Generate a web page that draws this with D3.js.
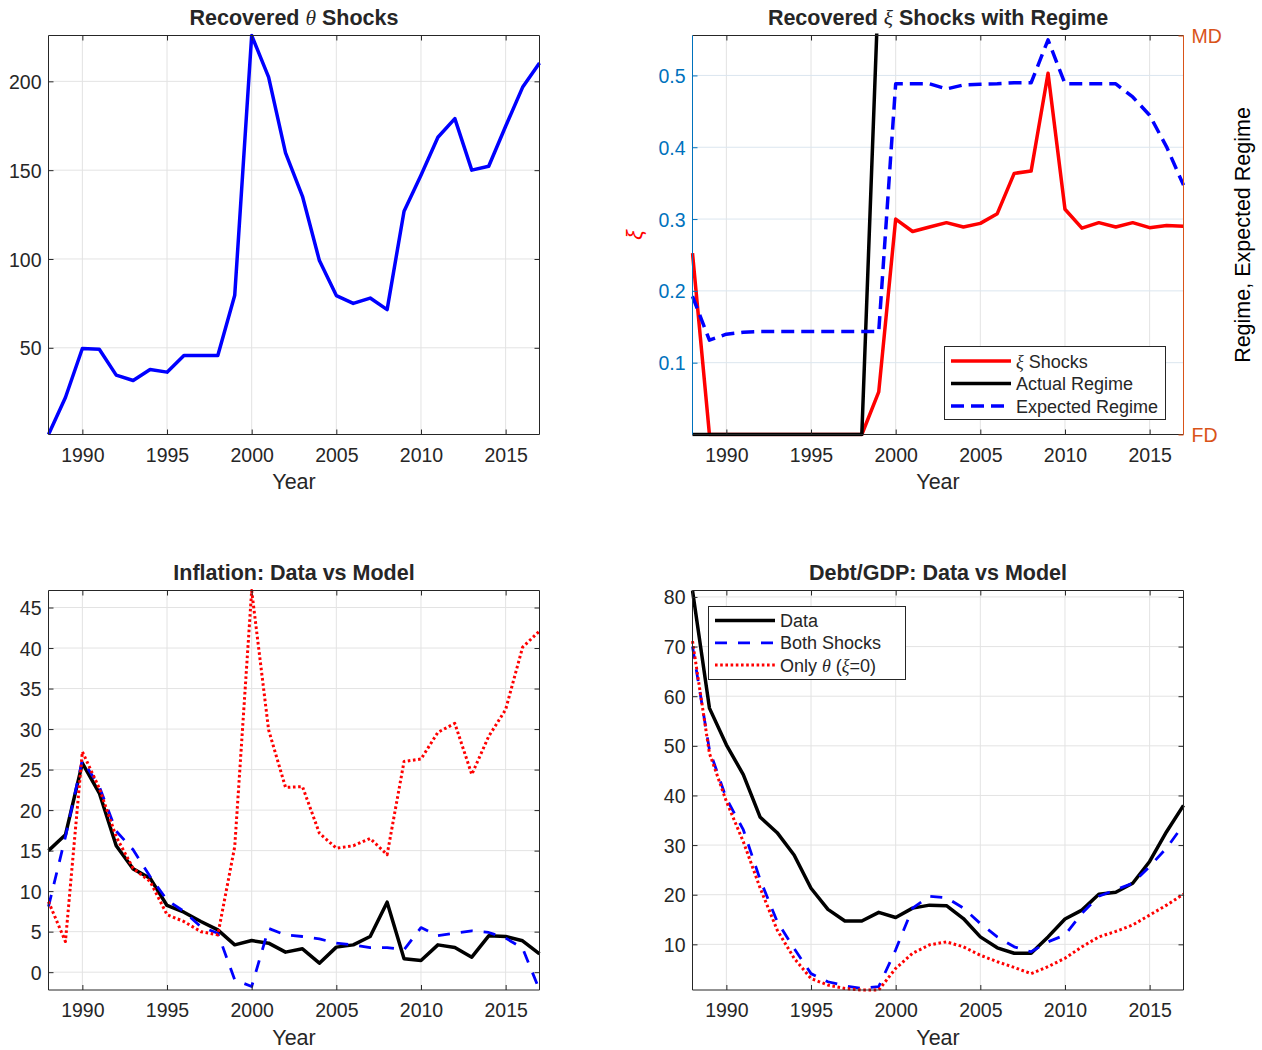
<!DOCTYPE html>
<html>
<head>
<meta charset="utf-8">
<script src="https://cdn.jsdelivr.net/npm/d3@7"></script>
<style>
  body { margin: 0; background: #fff; }
  text { font-family: "Liberation Sans", Arial, Helvetica, sans-serif; }
</style>
</head>
<body>
<svg id="fig" width="1262" height="1050"></svg>
<script>
// ---- data -------------------------------------------------------------
const years = d3.range(1988, 2018);
const yearTicks = [1990, 1995, 2000, 2005, 2010, 2015];

const thetaShocks = [1.2, 22, 49.6, 49.2, 34.6, 31.6, 37.8, 36.3, 45.7, 45.7,
  45.7, 79.6, 225.8, 202.4, 159.7, 135.3, 99.1, 79.4, 75.0, 78.0,
  71.5, 126.9, 147.1, 168.5, 179.0, 150.0, 152.2, 174.7, 196.6, 210.3];
const thetaTicks = [50, 100, 150, 200];

const xiShocks = [0.2526, 0, 0, 0, 0, 0, 0, 0, 0, 0,
  0, 0.0593, 0.300, 0.2827, 0.289, 0.295, 0.289, 0.294, 0.3075, 0.3636,
  0.3668, 0.503, 0.3136, 0.2873, 0.295, 0.289, 0.295, 0.288, 0.291, 0.290];
const xiTicks = [0.1, 0.2, 0.3, 0.4, 0.5];
const xiLimits = [0, 0.5556];

// regime scale: 0 = FD, 1 = MD
const actualRegime = [0, 0, 0, 0, 0, 0, 0, 0, 0, 0,
  0, 1.14, 1.14, 1.14, 1.14, 1.14, 1.14, 1.14, 1.14, 1.14,
  1.14, 1.14, 1.14, 1.14, 1.14, 1.14, 1.14, 1.14, 1.14, 1.14];
const expectedRegime = [0.3465, 0.2365, 0.2514, 0.2565, 0.258, 0.258, 0.258, 0.258, 0.258, 0.258,
  0.258, 0.258, 0.879, 0.879, 0.879, 0.866, 0.876, 0.878, 0.879, 0.8816,
  0.8816, 0.989, 0.879, 0.879, 0.879, 0.879, 0.846, 0.800, 0.721, 0.625];
const regimeTicks = [0, 1];
const regimeLabels = ["FD", "MD"];

const inflationData = [15.0, 16.95, 25.8, 22.1, 15.6, 12.75, 11.6, 8.23, 7.4, 6.25,
  5.22, 3.37, 3.9, 3.58, 2.47, 2.88, 1.11, 3.09, 3.37, 4.4,
  8.64, 1.65, 1.44, 3.37, 3.04, 1.85, 4.48, 4.4, 3.87, 2.26];
const inflationBoth = [8.1, 16.7, 26.2, 22.9, 17.4, 15.1, 11.8, 8.9, 7.5, 5.6,
  4.8, -0.95, -1.77, 5.4, 4.6, 4.4, 4.1, 3.58, 3.37, 3.04,
  3.04, 2.76, 5.5, 4.5, 4.8, 5.1, 4.9, 4.2, 2.96, -2.2];
const inflationTheta = [8.7, 3.78, 27.2, 22.7, 16.7, 12.8, 11.2, 7.1, 6.25, 5.0,
  4.6, 15.5, 47.1, 29.9, 22.8, 22.9, 17.15, 15.3, 15.6, 16.5,
  14.5, 26.0, 26.3, 29.6, 30.7, 24.4, 29.1, 32.4, 40.1, 42.1];
const inflationTicks = [0, 5, 10, 15, 20, 25, 30, 35, 40, 45];

const debtData = [81.3, 57.6, 50.2, 44.2, 35.6, 32.5, 28.0, 21.3, 17.05, 14.7,
  14.7, 16.45, 15.4, 17.3, 17.9, 17.8, 15.2, 11.5, 9.3, 8.2,
  8.2, 11.5, 15.1, 16.9, 20.1, 20.5, 22.3, 26.7, 32.7, 38.0];
const debtBoth = [70.0, 49.2, 39.4, 33.1, 23.0, 14.6, 9.2, 4.1, 2.46, 1.65,
  1.1, 1.5, 8.9, 17.3, 19.7, 19.4, 17.3, 14.2, 11.5, 9.5,
  8.5, 10.5, 11.9, 16.25, 19.7, 21.0, 22.3, 25.7, 29.4, 34.1];
const debtTheta = [71.1, 48.5, 38.8, 30.7, 21.3, 12.9, 7.2, 3.1, 1.8, 1.1,
  0.8, 0.8, 5.15, 8.2, 9.9, 10.5, 9.5, 7.8, 6.5, 5.35,
  4.1, 5.5, 7.2, 9.5, 11.5, 12.6, 13.9, 15.9, 17.9, 20.1];
const debtTicks = [10, 20, 30, 40, 50, 60, 70, 80];

// ---- styling constants ---------------------------------------------------
const AX = "#262626";
const GRID = "#e3e3e3";
const LEFT_BLUE = "#0072BD";
const RIGHT_ORANGE = "#D95319";
const TICK_FS = 19.5, TITLE_FS = 21.5, LABEL_FS = 21.5, LEGEND_FS = 18;
const TICK_LEN = 5;
const CLIP_PAD = 2; // strokes on the axes limits stay fully visible

const svg = d3.select("#fig");
svg.append("rect").attr("width", 1262).attr("height", 1050).attr("fill", "#fff");

let clipCount = 0;

// Builds one axes box: grid, ticks, labels, title; returns helpers to plot lines.
function makeAxes(box, yDomain, yTicks, opts = {}) {
  const g = svg.append("g");
  const x = d3.scaleLinear().domain([1988, 2017]).range([box.x0, box.x1]);
  const y = d3.scaleLinear().domain(yDomain).range([box.y1, box.y0]);
  const leftColor = opts.leftColor || AX;

  // grid
  const grid = g.append("g");
  grid.selectAll(".vg").data(yearTicks).join("line")
    .attr("x1", d => x(d)).attr("x2", d => x(d))
    .attr("y1", box.y0).attr("y2", box.y1)
    .attr("stroke", GRID).attr("stroke-width", 1);
  grid.selectAll(".hg").data(yTicks).join("line")
    .attr("x1", box.x0).attr("x2", box.x1)
    .attr("y1", d => y(d)).attr("y2", d => y(d))
    .attr("stroke", opts.hGrid || GRID).attr("stroke-width", 1);

  // clip region for data
  const id = "clip" + (clipCount++);
  svg.append("clipPath").attr("id", id).append("rect")
    .attr("x", box.x0 - CLIP_PAD).attr("y", box.y0 - CLIP_PAD)
    .attr("width", box.x1 - box.x0 + 2 * CLIP_PAD).attr("height", box.y1 - box.y0 + 2 * CLIP_PAD);
  const data = svg.append("g").attr("clip-path", `url(#${id})`);

  // axes drawn after data
  const axesLayer = svg.append("g");
  function drawAxes() {
    const bottom = axesLayer.append("g").attr("transform", `translate(0,${box.y1})`)
      .call(d3.axisBottom(x).tickValues(yearTicks).tickFormat(d3.format("d"))
        .tickSizeInner(-TICK_LEN).tickSizeOuter(0));
    bottom.select(".domain").remove();
    bottom.selectAll("line").attr("stroke", AX);
    bottom.selectAll("text").attr("y", 27).attr("dy", null)
      .attr("fill", AX).attr("font-size", TICK_FS).attr("font-family", null);

    const top = axesLayer.append("g").attr("transform", `translate(0,${box.y0})`)
      .call(d3.axisTop(x).tickValues(yearTicks).tickFormat("")
        .tickSizeInner(-TICK_LEN).tickSizeOuter(0));
    top.select(".domain").remove();
    top.selectAll("line").attr("stroke", AX);

    const left = axesLayer.append("g").attr("transform", `translate(${box.x0},0)`)
      .call(d3.axisLeft(y).tickValues(yTicks).tickFormat(opts.leftFormat || d3.format("d"))
        .tickSizeInner(-TICK_LEN).tickSizeOuter(0).tickPadding(7));
    left.select(".domain").remove();
    left.selectAll("line").attr("stroke", leftColor);
    left.selectAll("text").attr("fill", leftColor).attr("font-size", TICK_FS)
      .attr("font-family", null).attr("dy", "0.36em");

    if (!opts.rightAxis) {
      const right = axesLayer.append("g").attr("transform", `translate(${box.x1},0)`)
        .call(d3.axisRight(y).tickValues(yTicks).tickFormat("")
          .tickSizeInner(-TICK_LEN).tickSizeOuter(0));
      right.select(".domain").remove();
      right.selectAll("line").attr("stroke", AX);
    }

    // box
    axesLayer.append("line").attr("x1", box.x0).attr("x2", box.x1)
      .attr("y1", box.y0).attr("y2", box.y0).attr("stroke", AX);
    axesLayer.append("line").attr("x1", box.x0).attr("x2", box.x1)
      .attr("y1", box.y1).attr("y2", box.y1).attr("stroke", AX);
    axesLayer.append("line").attr("x1", box.x0).attr("x2", box.x0)
      .attr("y1", box.y0).attr("y2", box.y1).attr("stroke", leftColor);
    axesLayer.append("line").attr("x1", box.x1).attr("x2", box.x1)
      .attr("y1", box.y0).attr("y2", box.y1)
      .attr("stroke", opts.rightAxis ? RIGHT_ORANGE : AX);

    // x label
    axesLayer.append("text").attr("x", (box.x0 + box.x1) / 2).attr("y", box.y1 + 54.5)
      .attr("text-anchor", "middle").attr("font-size", LABEL_FS).attr("fill", AX).text("Year");
  }

  function title(parts) {
    const t = svg.append("text").attr("x", (box.x0 + box.x1) / 2).attr("y", box.y0 - 10.5)
      .attr("text-anchor", "middle").attr("font-size", TITLE_FS)
      .attr("font-weight", "bold").attr("fill", AX);
    parts.forEach(p => {
      const s = t.append("tspan").text(p.t);
      if (p.sym) s.attr("font-style", "italic").attr("font-weight", "normal")
        .attr("font-family", "'Liberation Serif', 'DejaVu Serif', serif");
    });
  }

  function plot(values, style, scaleY = y) {
    const line = d3.line().x((d, i) => x(years[i])).y(d => scaleY(d));
    data.append("path").datum(values).attr("d", line)
      .attr("fill", "none").attr("stroke", style.color)
      .attr("stroke-width", style.width)
      .attr("stroke-linejoin", "round")
      .attr("stroke-dasharray", style.dash || null);
  }

  return { x, y, g, drawAxes, title, plot, box };
}

function legend(box, entries, sample) {
  const lg = svg.append("g");
  lg.append("rect").attr("x", box.x0).attr("y", box.y0)
    .attr("width", box.x1 - box.x0).attr("height", box.y1 - box.y0)
    .attr("fill", "#fff").attr("stroke", AX).attr("stroke-width", 1);
  entries.forEach((e, i) => {
    const cy = box.firstRow + i * box.step;
    lg.append("line").attr("x1", sample[0]).attr("x2", sample[1])
      .attr("y1", cy).attr("y2", cy)
      .attr("stroke", e.style.color).attr("stroke-width", e.style.width)
      .attr("stroke-dasharray", e.style.dash || null);
    const t = lg.append("text").attr("x", sample[1] + 5).attr("y", cy + 6.5)
      .attr("font-size", LEGEND_FS).attr("fill", AX);
    e.label.forEach(p => {
      const s = t.append("tspan").text(p.t);
      if (p.sym) s.attr("font-style", "italic")
        .attr("font-family", "'Liberation Serif', 'DejaVu Serif', serif");
    });
  });
}

// ---- styles --------------------------------------------------------------
const solidBlue = { color: "#0000FF", width: 3.5 };
const solidRed = { color: "#FF0000", width: 3.5 };
const solidBlack = { color: "#000000", width: 3.5 };
const dashBlue2 = { color: "#0000FF", width: 3.5, dash: "13,7" };
const dataBlack = { color: "#000000", width: 3.5 };
const dashBlue = { color: "#0000FF", width: 2.8, dash: "12,11" };
const dotRed = { color: "#FF0000", width: 3, dash: "2.6,2.6" };

// ---- panel 1: recovered theta shocks -------------------------------------
const p1 = makeAxes({ x0: 48.5, x1: 539.5, y0: 35.5, y1: 434.5 },
  d3.extent(thetaShocks), thetaTicks);
p1.plot(thetaShocks, solidBlue);
p1.drawAxes();
p1.title([{ t: "Recovered " }, { t: "θ", sym: true }, { t: " Shocks" }]);

// ---- panel 2: recovered xi shocks with regime ----------------------------
const p2 = makeAxes({ x0: 692.5, x1: 1183.5, y0: 35.5, y1: 434.5 },
  xiLimits, xiTicks,
  { leftColor: LEFT_BLUE, hGrid: "#dbe6ef", rightAxis: true, leftFormat: d3.format(".1f") });
const yRegime = d3.scaleLinear().domain([0, 1]).range([p2.box.y1, p2.box.y0]);
p2.plot(xiShocks, solidRed);
p2.plot(actualRegime, solidBlack, yRegime);
p2.plot(expectedRegime, dashBlue2, yRegime);
p2.drawAxes();
p2.title([{ t: "Recovered " }, { t: "ξ", sym: true }, { t: " Shocks with Regime" }]);

// right (regime) axis
const rAx = svg.append("g").attr("transform", `translate(${p2.box.x1},0)`)
  .call(d3.axisRight(yRegime).tickValues(regimeTicks)
    .tickFormat((d, i) => regimeLabels[i]).tickSizeInner(-TICK_LEN).tickSizeOuter(0).tickPadding(8));
rAx.select(".domain").remove();
rAx.selectAll("line").attr("stroke", RIGHT_ORANGE);
rAx.selectAll("text").attr("fill", RIGHT_ORANGE).attr("font-size", TICK_FS)
  .attr("font-family", null).attr("dy", "0.36em");

svg.append("text").attr("transform", `translate(1250,${(p2.box.y0 + p2.box.y1) / 2}) rotate(-90)`)
  .attr("text-anchor", "middle").attr("font-size", LABEL_FS).attr("fill", "#000")
  .text("Regime, Expected Regime");
svg.append("text").attr("transform", `translate(642,${(p2.box.y0 + p2.box.y1) / 2}) rotate(-90)`)
  .attr("text-anchor", "middle").attr("font-size", LABEL_FS).attr("fill", "#FF0000")
  .attr("font-style", "italic").attr("font-family", "'Liberation Serif', 'DejaVu Serif', serif")
  .text("ξ");

legend({ x0: 944.5, x1: 1165.5, y0: 346.5, y1: 419.5, firstRow: 361, step: 22.5 }, [
  { style: solidRed, label: [{ t: "ξ", sym: true }, { t: " Shocks" }] },
  { style: solidBlack, label: [{ t: "Actual Regime" }] },
  { style: dashBlue2, label: [{ t: "Expected Regime" }] }
], [951, 1011]);

// ---- panel 3: inflation ---------------------------------------------------
const p3 = makeAxes({ x0: 48.5, x1: 539.5, y0: 590.5, y1: 990 },
  d3.extent([...inflationData, ...inflationBoth, ...inflationTheta]), inflationTicks);
p3.plot(inflationData, dataBlack);
p3.plot(inflationBoth, dashBlue);
p3.plot(inflationTheta, dotRed);
p3.drawAxes();
p3.title([{ t: "Inflation: Data vs Model" }]);

// ---- panel 4: debt/GDP ----------------------------------------------------
const p4 = makeAxes({ x0: 692.5, x1: 1183.5, y0: 590.5, y1: 990 },
  d3.extent([...debtData, ...debtBoth, ...debtTheta]), debtTicks);
p4.plot(debtData, dataBlack);
p4.plot(debtBoth, dashBlue);
p4.plot(debtTheta, dotRed);
p4.drawAxes();
p4.title([{ t: "Debt/GDP: Data vs Model" }]);

legend({ x0: 708.5, x1: 905.5, y0: 606.5, y1: 679.5, firstRow: 620.5, step: 22.3 }, [
  { style: dataBlack, label: [{ t: "Data" }] },
  { style: dashBlue, label: [{ t: "Both Shocks" }] },
  { style: dotRed, label: [{ t: "Only " }, { t: "θ", sym: true }, { t: " (" }, { t: "ξ", sym: true }, { t: "=0)" }] }
], [715, 775]);
</script>
</body>
</html>
